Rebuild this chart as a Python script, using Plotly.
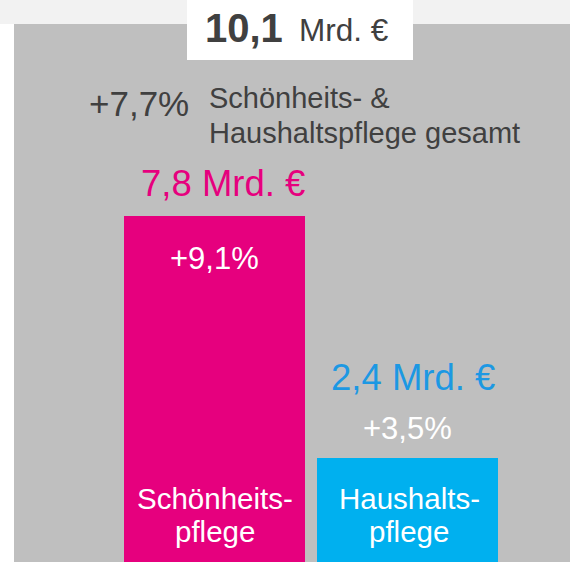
import plotly.graph_objects as go

# ---- data ----
categories = ["Schönheitspflege", "Haushaltspflege"]
values = [7.8, 2.4]
value_labels = ["7,8 Mrd. €", "2,4 Mrd. €"]
growth_labels = ["+9,1%", "+3,5%"]
name_lines = [["Schönheits-", "pflege"], ["Haushalts-", "pflege"]]
total_value = "10,1"
total_unit = "Mrd. €"
total_growth = "+7,7%"
total_text = ["Schönheits- &", "Haushaltspflege gesamt"]

bar_colors = ["#e6007e", "#00b0ef"]
value_colors = ["#e6007e", "#1c98e3"]
GRAY = "#bfbfbf"
DARK = "#404040"
FONT = "Liberation Sans, Arial, sans-serif"

W, H = 570, 562

def px(x):
    return x / W

def py(y):
    return 1 - y / H

fig = go.Figure()
fig.add_trace(go.Bar(
    x=categories, y=values, marker=dict(color=bar_colors, line=dict(width=0)),
    width=0.933, hoverinfo="skip", showlegend=False,
))

shapes = [
    dict(type="rect", xref="paper", yref="paper", x0=0, x1=1, y0=py(24), y1=1,
         fillcolor="#f2f2f2", line=dict(width=0), layer="below"),
    dict(type="rect", xref="paper", yref="paper", x0=px(14), x1=1, y0=0, y1=py(24),
         fillcolor=GRAY, line=dict(width=0), layer="below"),
    dict(type="rect", xref="paper", yref="paper", x0=px(187), x1=px(413), y0=py(60), y1=1,
         fillcolor="white", line=dict(width=0), layer="below"),
]

ann = []
def add(text, x, y, size, color, xanchor="center", bold=False):
    ann.append(dict(text=f"<b>{text}</b>" if bold else text, xref="paper", yref="paper",
                    x=px(x), y=py(y), xanchor=xanchor, yanchor="middle", showarrow=False,
                    font=dict(family=FONT, size=size, color=color)))

# total header
add(total_value, 203, 28, 40, DARK, xanchor="left", bold=True)
add(total_unit, 297, 30, 31.5, DARK, xanchor="left")
add(total_growth, 87, 103, 35, DARK, xanchor="left")
add(total_text[0], 207, 98, 29, DARK, xanchor="left")
add(total_text[1], 207, 133, 29, DARK, xanchor="left")

# bar labels
val_pos = [(223, 183), (412.5, 377.5)]
grow_pos = [(214, 258), (407, 428)]
name_x = [215, 409]
for i in range(2):
    add(value_labels[i], val_pos[i][0], val_pos[i][1], 36.5, value_colors[i])
    add(growth_labels[i], grow_pos[i][0], grow_pos[i][1], 31, "white")
    add(name_lines[i][0], name_x[i], 498, 29.5, "white")
    add(name_lines[i][1], name_x[i], 531, 29.5, "white")

# axis ranges: category spacing 193px, first bar center at 214.5px
step = 193.0
fig.update_layout(
    width=W, height=H, margin=dict(l=0, r=0, t=0, b=0),
    paper_bgcolor="white", plot_bgcolor="rgba(0,0,0,0)",
    shapes=shapes, annotations=ann,
    xaxis=dict(range=[-214.5 / step, (W - 214.5) / step], visible=False, fixedrange=True),
    yaxis=dict(range=[0.08, 12.62], visible=False, fixedrange=True),
    bargap=0,
)
fig.write_html("out.html")
